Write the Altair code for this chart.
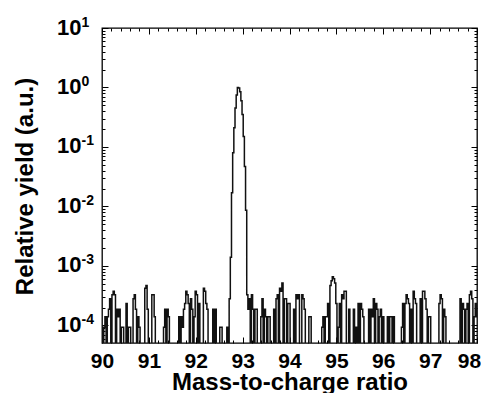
import altair as alt
import numpy as np
import pandas as pd

# ---- data (ion counts per 0.025 bin) ----
MZ_START = 90.0
BIN_WIDTH = 0.025
counts_90 = [2,1,2,3,0,3,4,6,0,7, 8,7,0,4,3,4,0,2,2,0, 0,5,0,2,2,0,0,6,7,4, 0,3,2,0,0,1,0,9,10,4]
counts_91 = [0,0,1,7,7,3,0,0,0,1, 0,0,0,2,4,0,4,3,0,0, 0,1,0,0,0,0,3,0,3,2, 4,5,8,7,5,0,6,4,0,3]
counts_92 = [8,7,0,5,0,0,1,9,8,5, 4,0,0,1,0,4,0,4,0,0, 0,2,2,0,0,0,1,2,0,6,
             30,362,1700,4470,9590,15980,21300,20900,18100,12780]
counts_93 = [7460,3200,1000,185,7,4,6,0,7,4, 0,4,4,0,0,0,3,6,0,4, 3,0,3,3,0,0,1,4,0,6, 7,0,9,8,11,0,6,6,0,5]
counts_94 = [5,0,0,1,4,0,7,6,7,0, 0,7,6,4,0,0,1,3,3,0, 0,0,1,0,0,0,0,1,2,3, 0,3,3,5,0,10,12,14,13,11]
counts_95 = [5,0,2,5,0,7,6,8,8,0, 0,4,0,0,1,4,0,2,0,5, 0,5,4,3,0,0,0,1,4,0, 4,3,6,0,5,4,0,3,4,0]
counts_96 = [3,0,0,1,3,0,3,3,0,3, 0,0,1,0,0,0,2,5,0,5, 7,6,5,0,4,0,8,6,5,0, 0,0,6,0,8,8,6,4,0,3]
counts_97 = [3,0,0,1,0,0,0,0,5,7, 6,0,4,3,0,0,0,1,0,0, 0,0,0,1,0,0,6,0,5,4, 0,4,5,0,7,8,6,0,3,5]
counts_98 = [3]

x_major = [90, 91, 92, 93, 94, 95, 96, 97, 98]
x_minor = [round(90 + 0.2 * k, 1) for k in range(41) if k % 5 != 0]
y_major = [1e-4, 1e-3, 1e-2, 1e-1, 1, 10]
y_minor = [m * 10.0 ** e for e in range(-5, 1) for m in range(2, 10) if 5.08e-5 <= m * 10.0 ** e <= 10]
X_DOMAIN = [90, 98]
Y_DOMAIN = [5.08e-5, 10]

counts = np.array(counts_90 + counts_91 + counts_92 + counts_93 + counts_94 +
                  counts_95 + counts_96 + counts_97 + counts_98, dtype=float)
mz = MZ_START + BIN_WIDTH * np.arange(len(counts))
ry = np.maximum(counts, 0.2) / counts.max()
df = pd.DataFrame({"mz": mz, "ry": ry})

FONT = "Liberation Sans"
xs = alt.Scale(domain=X_DOMAIN, nice=False, zero=False)
ys = alt.Scale(type="log", domain=Y_DOMAIN, nice=False)

base = alt.Chart(df)


def tick_axis(orient, values, size):
    return alt.Axis(orient=orient, values=values, labels=False, ticks=True, tickSize=size,
                    offset=-size, domain=False, grid=False, title=None,
                    tickColor="black", tickWidth=1)


def xlabel_axis(values, offset, **kw):
    return alt.Axis(orient="bottom", values=values, format="d", ticks=False, tickSize=0,
                    domain=False, grid=False, labelFont=FONT, labelFontSize=21,
                    labelFontWeight="bold", labelColor="black", labelPadding=7,
                    labelFlush=False, labelOffset=offset, **kw)


line = base.mark_line(interpolate="step", clip=True, color="#111111", strokeWidth=1.5).encode(
    x=alt.X("mz:Q", scale=xs, axis=xlabel_axis(
        x_major[:-1], 0,
        title="Mass-to-charge ratio", titleFont=FONT, titleFontSize=24, titleFontWeight="bold",
        titleColor="black", titleY=46, titleBaseline="alphabetic", titleAlign="center")),
    y=alt.Y("ry:Q", scale=ys, axis=alt.Axis(
        orient="left", values=y_major, labelExpr="'10'", ticks=False, tickSize=0, domain=False, grid=False,
        labelFont=FONT, labelFontSize=22, labelFontWeight="bold", labelColor="black", labelPadding=21,
        labelBaseline="middle", labelOffset=-1, labelFlush=False,
        title="Relative yield (a.u.)", titleFont=FONT, titleFontSize=24, titleFontWeight="bold",
        titleColor="black", titleX=-77, titleY=158, titleAngle=270, titleBaseline="middle",
        titleAlign="center")),
)

expo = base.mark_point(opacity=0).encode(
    x=alt.X("mz:Q", scale=xs, axis=tick_axis("bottom", x_major, 6)),
    y=alt.Y("ry:Q", scale=ys, axis=alt.Axis(
        orient="left", values=y_major, labelExpr="'' + round(log(datum.value) / LN10)",
        ticks=False, tickSize=0, domain=False, grid=False, title=None,
        labelFont=FONT, labelFontSize=14, labelFontWeight="bold", labelColor="black",
        labelPadding=21, labelAlign="left", labelOffset=-6, labelBaseline="middle", labelFlush=False)),
)

l3 = base.mark_point(opacity=0).encode(
    x=alt.X("mz:Q", scale=xs, axis=tick_axis("top", x_major, 6)),
    y=alt.Y("ry:Q", scale=ys, axis=tick_axis("left", y_major, 6)),
)
l4 = base.mark_point(opacity=0).encode(
    x=alt.X("mz:Q", scale=xs, axis=tick_axis("bottom", x_minor, 3)),
    y=alt.Y("ry:Q", scale=ys, axis=tick_axis("right", y_major, 6)),
)
l5 = base.mark_point(opacity=0).encode(
    x=alt.X("mz:Q", scale=xs, axis=tick_axis("top", x_minor, 3)),
    y=alt.Y("ry:Q", scale=ys, axis=tick_axis("left", y_minor, 3)),
)
l6 = base.mark_point(opacity=0).encode(
    x=alt.X("mz:Q", scale=xs, axis=xlabel_axis(x_major[-1:], -8, title=None)),
    y=alt.Y("ry:Q", scale=ys, axis=tick_axis("right", y_minor, 3)),
)

chart = alt.layer(line, expo, l3, l4, l5, l6).resolve_axis(
    x="independent", y="independent"
).properties(
    width=375, height=315,
    autosize=alt.AutoSizeParams(type="none"),
    padding={"left": 94, "top": 20, "right": 4, "bottom": 50},
    background="white",
).configure_view(stroke="black", strokeWidth=1.3)

chart.save("out.html", embed_options={"renderer": "svg", "actions": False})
